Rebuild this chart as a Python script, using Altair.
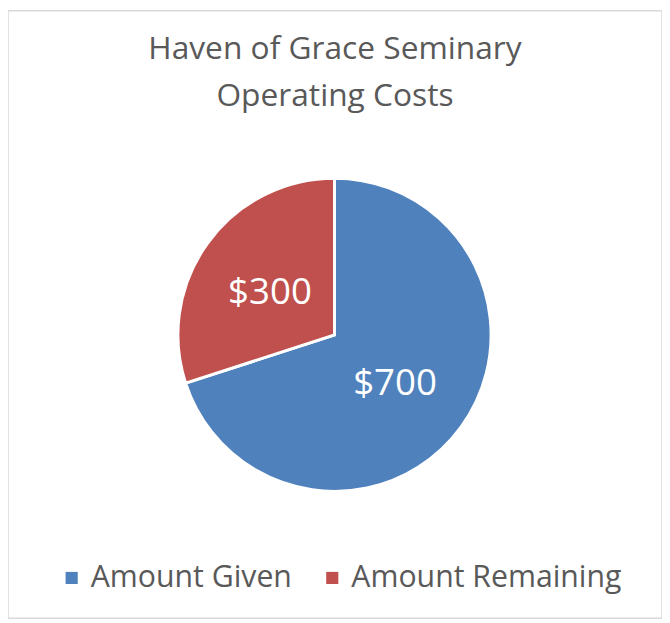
import altair as alt
import pandas as pd

categories = ["Amount Given", "Amount Remaining"]
values = [700, 300]
labels = ["$700", "$300"]
order = [1, 2]
colors = ["#4F81BD", "#C0504D"]

df = pd.DataFrame({"category": categories, "value": values, "label": labels, "order": order})

FONT = "Open Sans"
CX, CY = 329.5, 327

base = alt.Chart(df).encode(
    theta=alt.Theta("value:Q", stack=True),
    order=alt.Order("order:Q"),
)

pie = base.mark_arc(outerRadius=158, stroke="white", strokeWidth=3).encode(
    x=alt.value(CX),
    y=alt.value(CY),
    color=alt.Color(
        "category:N",
        scale=alt.Scale(domain=categories, range=colors),
        legend=alt.Legend(
            title=None,
            orient="none",
            direction="horizontal",
            legendX=49,
            legendY=557,
            symbolType="square",
            symbolSize=150,
            symbolStrokeWidth=0,
            labelFont=FONT,
            labelFontSize=30.5,
            labelColor="#595959",
            labelOffset=4,
            columnPadding=25,
            padding=0,
            labelLimit=400,
        ),
    ),
)

text = base.mark_text(radius=78, font=FONT, fontSize=37, color="white", baseline="middle", align="center").encode(
    x=alt.value(CX - 2),
    y=alt.value(CY + 4),
    text="label:N",
)

chart = (
    alt.layer(pie, text)
    .properties(
        width=660,
        height=613,
        padding=0,
        autosize=alt.AutoSizeParams(type="none"),
        title=alt.TitleParams(
            text=["Haven of Grace Seminary", "Operating Costs"],
            font=FONT,
            fontSize=32,
            fontWeight="normal",
            color="#595959",
            anchor="middle",
            lineHeight=47,
            baseline="top",
            offset=-103,
        ),
    )
    .configure_view(stroke="#d9d9d9", strokeWidth=1.5)
)

chart.save("out.html", embed_options={"renderer": "svg", "actions": False})
